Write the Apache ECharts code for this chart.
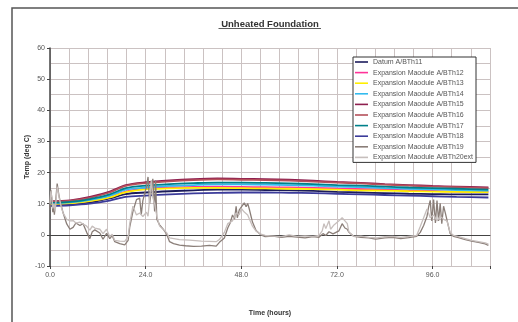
<!DOCTYPE html>
<html>
<head>
<meta charset="utf-8">
<script src="https://cdn.jsdelivr.net/npm/echarts@6/dist/echarts.min.js"></script>
<style>
html,body{margin:0;padding:0;background:#fff;}
#chart{width:518px;height:322px;}
</style>
</head>
<body>
<div id="chart"></div>
<script>
// ---- data ----
var seriesNames = [
  'Datum A/BTh11',
  'Expansion Maodule A/BTh12',
  'Expansion Maodule A/BTh13',
  'Expansion Maodule A/BTh14',
  'Expansion Maodule A/BTh15',
  'Expansion Maodule A/BTh16',
  'Expansion Maodule A/BTh17',
  'Expansion Maodule A/BTh18',
  'Expansion Maodule A/BTh19',
  'Expansion Maodule A/BTh20ext'
];
var hours = [0,5,10,15,19,24,30,36,42,48,54,60,66,72,78,84,90,96,102,110];
var th11 = [9.5,9.8,10.4,11.7,13.1,13.6,14.0,14.3,14.5,14.5,14.4,14.3,14.1,13.8,13.6,13.4,13.2,13.1,13.0,13.0];
var th12 = [9.9,10.2,10.9,12.2,13.9,14.8,15.2,15.4,15.5,15.4,15.3,15.2,15.1,14.9,14.7,14.5,14.3,14.1,13.9,13.8];
var th13 = [9.8,10.1,10.8,12.0,13.7,14.6,14.9,15.1,15.1,15.0,14.9,14.8,14.7,14.5,14.3,14.2,14.0,13.9,13.8,13.7];
var th14 = [10.1,10.4,11.2,12.6,14.5,15.2,15.7,16.0,16.2,16.2,16.1,16.0,15.8,15.5,15.3,15.0,14.8,14.6,14.4,14.2];
var th15 = [10.8,11.1,12.2,13.9,16.0,16.9,17.5,17.9,18.1,18.0,17.9,17.7,17.4,17.0,16.7,16.3,16.0,15.7,15.5,15.2];
var th16 = [10.6,10.9,11.9,13.6,15.7,16.6,17.2,17.6,17.8,17.7,17.6,17.4,17.1,16.8,16.5,16.1,15.8,15.5,15.3,15.0];
var th17 = [10.3,10.6,11.5,13.0,15.0,15.8,16.3,16.6,16.8,16.8,16.7,16.5,16.3,16.0,15.8,15.5,15.2,15.0,14.8,14.5];
var th18 = [9.3,9.5,10.0,11.0,12.2,12.6,13.0,13.3,13.5,13.6,13.6,13.5,13.4,13.2,13.0,12.8,12.6,12.4,12.2,12.0];

var hours19 = [0,0.2,0.5,0.7,0.9,1.1,1.5,1.8,2.2,2.5,3.0,3.3,4.2,5.0,5.8,6.5,7.5,8.3,9.2,10.0,10.6,11.25,12.5,13.3,14.2,15.0,15.6,16.25,17.5,18.75,19.2,19.6,20.0,20.8,21.7,22.5,22.9,23.3,24.2,24.6,25.0,25.4,25.8,26.25,26.5,26.8,27.5,28.3,29.2,30.0,31,32.5,34,36,38,40,41.7,42.5,43.75,44.6,45.2,45.8,46.3,46.7,47.0,47.5,47.9,48.3,48.75,49.2,49.6,50.0,50.8,51.7,52.9,54,56,58,60,62,64,66,67.5,68.5,69.2,70,71,72.5,73.3,74,74.6,75,76.25,78,80,81.7,84,86,88,90,92,92.9,93.75,94.6,95.0,95.4,95.8,96.25,96.7,97.1,97.5,97.9,98.3,98.75,99.2,99.6,100.4,101.25,102.5,104.2,105.8,107.5,109.2,110];
var th19 = [8.0,14.5,11,7.3,9.5,6.5,12,16.5,13,11,8.5,7,3.5,1.8,2.4,3.8,3.0,3.6,0.8,-1.2,1.0,1.6,0.6,-1.4,0.5,-1.2,-0.2,-2.2,-2.8,-3.2,-2.6,-1.8,2.5,7.5,11.3,11.8,6.5,11.0,15.5,18.6,10.0,14,18.0,7.5,17.5,5.0,3.2,2.0,0.4,-2.2,-2.8,-3.3,-3.5,-3.7,-3.6,-3.4,-3.6,-2.4,-1.0,2.2,3.8,6.4,5.0,9.2,5.5,8.0,7.8,9.5,10.3,9.0,10.1,8.3,4.1,1.4,0.0,-0.6,-0.4,-0.8,-0.5,-0.7,-1.0,-0.6,-0.8,0.4,-0.2,1.0,0.3,1.3,3.6,2.2,1.8,0.8,-0.5,-0.8,-1.0,-1.4,-1.0,-0.8,-1.2,-0.9,-0.5,0.8,3.0,6.0,9.0,11.1,4.5,11.3,3.8,11.0,4.5,10.1,3.6,9.2,7.0,6.4,0.4,-0.5,-0.9,-1.5,-2.0,-2.4,-2.9,-3.4];

var hours20 = [0,0.2,0.5,0.7,1.0,1.3,1.8,2.3,2.8,3.3,4.2,5.0,5.8,6.5,7.5,8.3,9.2,10.0,10.6,11.25,12.5,13.3,14.2,15.0,15.6,16.25,17.5,18.75,19.6,20.0,20.8,21.7,22.5,23.3,24.2,24.6,25.0,25.4,25.8,26.25,26.8,27.5,29.2,30.0,32.5,35,38,41.7,42.5,43.75,44.6,45.8,46.7,47.5,48.0,48.75,49.6,50.0,50.8,51.7,52.9,54,56,58,60,62,64,66,67.5,68.3,68.75,69.2,70,70.4,71.25,72.5,73.3,74,74.6,75,76.25,78,80,82,84,86,88,90,92,92.9,93.75,94.6,95.4,96.25,97.1,97.9,98.75,99.6,100.4,101.25,102.5,104.2,105.8,107.5,109.2,110];
var th20 = [10,14.0,12,8.5,10,7.5,15.5,12,9,7,5.0,4.5,4.6,3.8,4.1,3.5,2.8,1.5,2.8,2.2,1.8,0.4,1.8,-0.6,0.2,-1.8,-2.0,-2.1,-0.6,3.6,9.2,6.4,7.0,5.9,7.3,6.0,5.5,17.5,12,10,6,2.8,0.8,-1.0,-1.5,-1.7,-2.0,-2.2,-1.5,0.8,3.6,4.5,7.0,6.5,8.5,7.3,6.4,5.8,2.8,1.2,0.2,-0.2,-0.4,-0.6,0.0,-0.5,-0.3,-0.5,-0.2,1.3,3.6,2.0,4.5,1.8,3.2,4.5,5.5,4.5,3.6,0.8,-0.5,-0.4,-0.8,-1.0,-0.6,-0.5,-0.8,-0.5,-0.2,2.7,5.5,8.3,5.5,6.4,4.5,6.0,5.0,4.5,0.8,-0.2,-0.6,-1.2,-1.8,-2.2,-2.6,-3.0];

var xTickLabels = [0, 24, 48, 72, 96];
var yTickLabels = [-10, 0, 10, 20, 30, 40, 50, 60];

// ---- styling ----
var colors = ['#1c1c5c','#ff3399','#ffee00','#33bbee','#8e1f4f','#b5505a','#00808a','#3b3b9a','#8a7e78','#c6bebc'];
var FONT = 'Liberation Sans, Arial, sans-serif';
var GRID = '#cbc2c2';

function pairs(xs, ys){ return xs.map(function(x,i){ return [x, ys[i]]; }); }
var smoothData = [th11, th12, th13, th14, th15, th16, th17, th18];

var series = [];
smoothData.forEach(function(arr, i){
  series.push({
    name: seriesNames[i], type: 'line', data: pairs(hours, arr),
    symbol: 'none', smooth: 0.3, xAxisIndex: 0,
    lineStyle: {color: colors[i], width: 1.8}, itemStyle: {color: colors[i]}
  });
});
series.push({
  name: seriesNames[8], type: 'line', data: pairs(hours19, th19),
  symbol: 'none', xAxisIndex: 0, z: 3,
  lineStyle: {color: colors[8], width: 1.3}, itemStyle: {color: colors[8]}
});
series.push({
  name: seriesNames[9], type: 'line', data: pairs(hours20, th20),
  symbol: 'none', xAxisIndex: 0, z: 3,
  lineStyle: {color: colors[9], width: 1.3}, itemStyle: {color: colors[9]}
});

var chart = echarts.init(document.getElementById('chart'), null, {renderer: 'canvas'});
chart.setOption({
  animation: false,
  backgroundColor: '#ffffff',
  grid: {left: 50, top: 48, right: 28, bottom: 23},
  graphic: [
    {type: 'rect', shape: {x: 12, y: 8, width: 700, height: 500}, style: {fill: 'none', stroke: '#555', lineWidth: 1.5}, silent: true},
    {type: 'text', x: 270, y: 24, style: {text: 'Unheated Foundation', font: 'bold 9.5px ' + FONT, fill: '#333', align: 'center', verticalAlign: 'middle'}},
    {type: 'line', shape: {x1: 218.5, y1: 28.5, x2: 321, y2: 28.5}, style: {stroke: '#333', lineWidth: 0.8}}
  ],
  legend: {
    left: 353, top: 57, orient: 'vertical',
    data: seriesNames,
    icon: 'rect',
    itemWidth: 13, itemHeight: 1.6, itemGap: 3.6, itemTextGap: 2,
    padding: [1.5, 3, 1.5, 2],
    borderColor: '#333', borderWidth: 1, backgroundColor: '#fff',
    textStyle: {fontFamily: FONT, fontSize: 7, lineHeight: 7, color: '#555'}
  },
  xAxis: [{
    type: 'value', min: 0, max: 110.4, interval: 4.8,
    name: 'Time (hours)', nameLocation: 'middle', nameGap: 44,
    nameTextStyle: {fontFamily: FONT, fontSize: 7, fontWeight: 'bold', color: '#333'},
    axisLine: {onZero: true, lineStyle: {color: '#444', width: 1}},
    axisTick: {show: false},
    axisLabel: {
      fontFamily: FONT, fontSize: 7, color: '#555', margin: 6,
      formatter: function(v){
        for (var i = 0; i < xTickLabels.length; i++) {
          if (Math.abs(v - xTickLabels[i]) < 1e-6) return xTickLabels[i].toFixed(1);
        }
        return '';
      }
    },
    splitLine: {show: true, lineStyle: {color: GRID, width: 1}}
  }, {
    type: 'value', min: 0, max: 110.4, interval: 24, position: 'bottom',
    axisLine: {show: false, onZero: true},
    axisTick: {show: true, length: 3, lineStyle: {color: '#444'}},
    axisLabel: {show: false},
    splitLine: {show: false}
  }],
  yAxis: {
    type: 'value', min: -10, max: 60, interval: 10,
    name: 'Temp (deg C)', nameLocation: 'middle', nameGap: 19, nameMoveOverlap: false,
    nameTextStyle: {fontFamily: FONT, fontSize: 7, fontWeight: 'bold', color: '#333'},
    axisLine: {show: true, onZero: false, lineStyle: {color: '#444', width: 1.5}},
    axisTick: {show: true, length: 3, lineStyle: {color: '#444'}},
    minorTick: {show: false, splitNumber: 2},
    minorSplitLine: {show: true, lineStyle: {color: GRID, width: 1}},
    axisLabel: {
      fontFamily: FONT, fontSize: 7, color: '#555', margin: 5,
      formatter: function(v){ return yTickLabels.indexOf(v) >= 0 ? String(v) : ''; }
    },
    splitLine: {show: true, lineStyle: {color: GRID, width: 1}}
  },
  series: series
});
</script>
</body>
</html>
